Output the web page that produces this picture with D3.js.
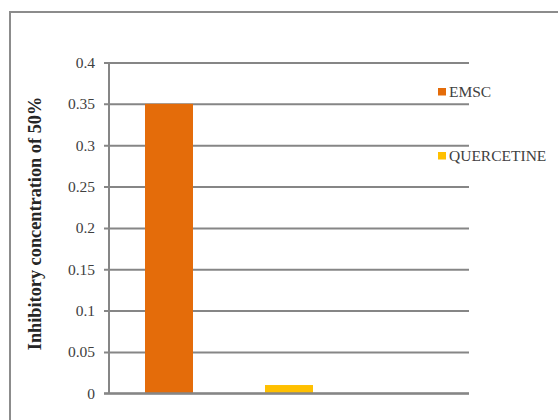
<!DOCTYPE html>
<html>
<head>
<meta charset="utf-8">
<script src="https://cdn.jsdelivr.net/npm/d3@7/dist/d3.min.js"></script>
<style>
  html, body { margin: 0; padding: 0; background: #fff; }
  svg text { font-family: "Liberation Serif", "Times New Roman", serif !important; }
</style>
</head>
<body>
<svg id="chart" width="558" height="420"></svg>
<script>
// IC50 values per sample; the third slot on the category axis is left empty
const categories = ["EMSC", "QUERCETINE", "blank"];
const seriesNames = ["EMSC", "QUERCETINE"];
const seriesValues = [0.35, 0.01];
const seriesColors = ["#E46C0A", "#FFC000"];
const yTicks = [0, 0.05, 0.1, 0.15, 0.2, 0.25, 0.3, 0.35, 0.4];
const yTickLabels = ["0", "0.05", "0.1", "0.15", "0.2", "0.25", "0.3", "0.35", "0.4"];
const yTitle = "Inhibitory concentration of 50%";

const svg = d3.select("#chart");
const gridColor = "#868686";
const textColor = "#404040";

// outer chart frame (runs off the right and bottom edges)
svg.append("rect")
  .attr("x", 10).attr("y", 12)
  .attr("width", 600).attr("height", 500)
  .attr("fill", "none")
  .attr("stroke", "#8c8c8c")
  .attr("stroke-width", 2);

const plot = { left: 109, right: 469, top: 62.5, bottom: 393.3 };

const x = d3.scaleBand()
  .domain(categories)
  .range([plot.left, plot.right])
  .paddingInner(0.6)
  .paddingOuter(0.3);

const y = d3.scaleLinear()
  .domain([0, 0.4])
  .range([plot.bottom, plot.top]);

// horizontal gridlines with outward tick marks and labels
const yAxis = d3.axisLeft(y)
  .tickValues(yTicks)
  .tickFormat((d, i) => yTickLabels[i])
  .tickSize(-(plot.right - plot.left))
  .tickPadding(14);

const gy = svg.append("g")
  .attr("transform", `translate(${plot.left},0)`)
  .call(yAxis);
gy.attr("font-size", null).attr("font-family", null);
gy.select(".domain").remove();
gy.selectAll(".tick line")
  .attr("x1", -5)
  .attr("stroke", gridColor)
  .attr("stroke-width", 2);
gy.selectAll(".tick text")
  .attr("fill", textColor)
  .style("font-size", "15.5px");

// vertical axis line
svg.append("line")
  .attr("x1", plot.left).attr("x2", plot.left)
  .attr("y1", y(0.4)).attr("y2", y(0))
  .attr("stroke", gridColor)
  .attr("stroke-width", 2);

// bars: each series sits in its own category slot
svg.append("g")
  .selectAll("rect")
  .data(seriesNames.map((n, i) => ({ name: n, value: seriesValues[i], color: seriesColors[i] })))
  .join("rect")
  .attr("x", d => x(d.name))
  .attr("width", x.bandwidth())
  .attr("y", d => y(d.value))
  .attr("height", d => y(0) - y(d.value))
  .attr("fill", d => d.color);

// baseline over bars
svg.append("line")
  .attr("x1", plot.left - 5).attr("x2", plot.right)
  .attr("y1", y(0)).attr("y2", y(0))
  .attr("stroke", gridColor)
  .attr("stroke-width", 2);

// y-axis title
svg.append("text")
  .attr("transform", `translate(41,223.5) rotate(-90)`)
  .attr("text-anchor", "middle")
  .style("font-weight", "bold")
  .style("font-size", "18.3px")
  .attr("fill", "#262626")
  .text(yTitle);

// legend
const legend = svg.append("g");
const legendY = [91.5, 155.5];
seriesNames.forEach((n, i) => {
  legend.append("rect")
    .attr("x", 438).attr("y", legendY[i] - 3.5)
    .attr("width", 8).attr("height", 7.5)
    .attr("fill", seriesColors[i]);
  legend.append("text")
    .attr("x", 449).attr("y", legendY[i] + 5)
    .style("font-size", "15.5px")
    .attr("fill", textColor)
    .text(n);
});
</script>
</body>
</html>
